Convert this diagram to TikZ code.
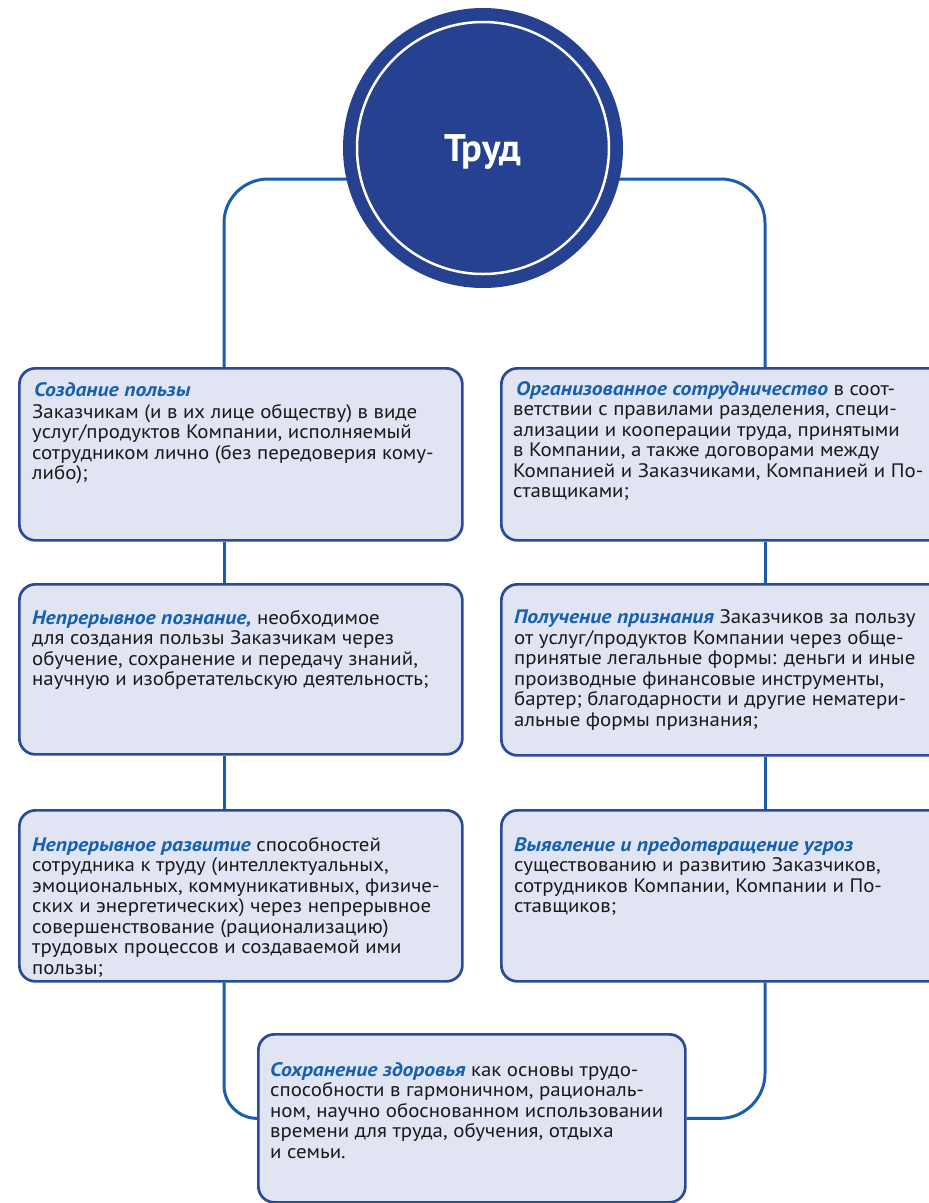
\documentclass[tikz,border=0pt]{standalone}
\usepackage{fontspec}
\setmainfont[FakeStretch=1.07]{PT Sans}
\newfontfamily\hdfont[FakeStretch=1.11]{PT Sans}
\newfontfamily\circfont{PT Sans}
\usetikzlibrary{calc}
\definecolor{circfill}{HTML}{26418F}
\definecolor{conncol}{HTML}{1A5DAD}
\definecolor{boxline}{HTML}{2B4A97}
\definecolor{boxfill}{HTML}{E0E4F3}
\definecolor{hblue}{HTML}{1560B0}
\definecolor{bodytext}{HTML}{1A1A1A}
\newcommand{\hd}[1]{{\hdfont\color{hblue}\bfseries\itshape #1}}
\newcommand{\bodyblock}[2]{\begin{minipage}[t]{#1}\raggedright\fontsize{19.5}{20.5}\selectfont #2\end{minipage}}
\tikzset{
  boxnode/.style={draw=boxline, fill=boxfill, line width=2.7pt, rounded corners=16pt, anchor=north west, inner sep=0pt},
  txtnode/.style={anchor=base west, inner sep=0pt, text=bodytext},
  conn/.style={draw=conncol, line width=3pt},
}
\begin{document}
\begin{tikzpicture}[x=1pt,y=-1pt]
\clip (0,0) rectangle (929,1203);
\fill[white] (0,0) rectangle (929,1203);
\coordinate (L) at (224,0);
\coordinate (R) at (765,0);
\coordinate (topmid) at (483,179);

% boxes
\node[boxnode, minimum width=443, minimum height=172] (b1) at (18,367) {};
\node[boxnode, minimum width=443, minimum height=170] (b2) at (18,583) {};
\node[boxnode, minimum width=443, minimum height=171] (b3) at (18,809) {};
\node[boxnode, minimum width=460, minimum height=172] (b4) at (500,367) {};
\node[boxnode, minimum width=460, minimum height=171] (b5) at (500,583) {};
\node[boxnode, minimum width=460, minimum height=171] (b6) at (500,809) {};
\node[boxnode, minimum width=427, minimum height=168] (b7) at (257,1033) {};

% connectors
\draw[conn, rounded corners=44pt] (b1.north -| L) |- (topmid) -| (b4.north -| R);
\draw[conn] (b1.south -| L) -- (b2.north -| L);
\draw[conn] (b2.south -| L) -- (b3.north -| L);
\draw[conn] (b4.south -| R) -- (b5.north -| R);
\draw[conn] (b5.south -| R) -- (b6.north -| R);
\draw[conn, rounded corners=33pt] (b3.south -| L) |- (b7.west);
\draw[conn, rounded corners=45pt] (b6.south -| R) |- (b7.east);

% circle
\node[circle, fill=circfill, minimum size=280pt, inner sep=0pt] (c) at (483,148) {};
\draw[white, line width=2.5pt] (c.center) circle[radius=126pt];
\node[text=white, font=\circfont\fontsize{38.5}{40}\selectfont\bfseries] (ctext) at (483,152) {Труд};

% texts
\node[txtnode] (t1) at (32,396) {\bodyblock{440pt}{\hspace{2pt}\hd{Создание пользы}\\[1.5pt]
Заказчикам (и в их лице обществу) в виде\\
услуг/продуктов Компании, исполняемый\\
сотрудником лично (без передоверия кому-\\
либо);}};
\node[txtnode] (t2) at (32,610) {\bodyblock{440pt}{\hd{Непрерывное познание,} необходимое\\
для создания пользы Заказчикам через\\
обучение, сохранение и передачу знаний,\\
научную и изобретательскую деятельность;}};
\node[txtnode] (t3) at (32,837) {\bodyblock{440pt}{\hd{Непрерывное развитие} способностей\\
сотрудника к труду (интеллектуальных,\\
эмоциональных, коммуникативных, физиче-\\
ских и энергетических) через непрерывное\\
совершенствование (рационализацию)\\
трудовых процессов и создаваемой ими\\
пользы;}};
\node[txtnode] (t4) at (513,395) {\bodyblock{440pt}{\hspace{3pt}\hd{Организованное сотрудничество} в соот-\\
ветствии с правилами разделения, специ-\\
ализации и кооперации труда, принятыми\\
в Компании, а также договорами между\\
Компанией и Заказчиками, Компанией и По-\\
ставщиками;}};
\node[txtnode] (t5) at (514,610) {\bodyblock{440pt}{\hd{Получение признания} Заказчиков за пользу\\
от услуг/продуктов Компании через обще-\\
принятые легальные формы: деньги и иные\\
производные финансовые инструменты,\\
бартер; благодарности и другие нематери-\\
альные формы признания;}};
\node[txtnode] (t6) at (514,837) {\bodyblock{440pt}{\hd{Выявление и предотвращение угроз}\\
существованию и развитию Заказчиков,\\
сотрудников Компании, Компании и По-\\
ставщиков;}};
\node[txtnode] (t7) at (270,1062) {\bodyblock{420pt}{\hd{Сохранение здоровья} как основы трудо-\\
способности в гармоничном, рациональ-\\
ном, научно обоснованном использовании\\
времени для труда, обучения, отдыха\\
и семьи.}};
\end{tikzpicture}
\end{document}
